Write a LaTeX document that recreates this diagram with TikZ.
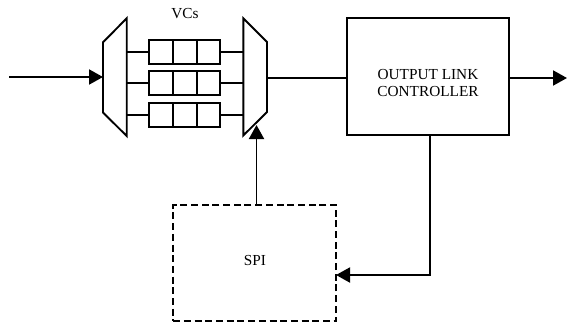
\documentclass[tikz,border=0pt]{standalone}
\usepackage{fontspec}
\setmainfont{Liberation Serif}
\usetikzlibrary{arrows.meta}
\begin{document}
\begin{tikzpicture}[x=1pt,y=-1pt,line width=1.9pt,
  lbl/.style={font=\fontsize{15.3}{17.8}\selectfont,inner sep=0pt,align=center},
  buf/.style={draw,minimum width=71pt,minimum height=23.5pt,inner sep=0pt},
  box/.style={draw,inner sep=0pt},
  arr/.style={-{Triangle[length=14pt,width=15pt]}}]
\useasboundingbox (0,0) rectangle (568,324);
% demux and mux
\draw[line join=miter] (126.7,18.3) -- (103,42.3) -- (103,112.5) -- (126.7,136) -- cycle;
\draw[line join=miter] (243.3,18.3) -- (267,42) -- (267,112) -- (243.3,135.5) -- cycle;
% buffers
\foreach \n/\y in {1/52,2/83,3/115}{
  \node[buf] (b\n) at (184.8,\y) {};
  \draw ([xshift=-11.83pt]b\n.north) -- ([xshift=-11.83pt]b\n.south);
  \draw ([xshift=11.83pt]b\n.north) -- ([xshift=11.83pt]b\n.south);
  \coordinate (dl\n) at (126.7,\y);
  \coordinate (mr\n) at (243.3,\y);
  \draw (dl\n) -- (b\n.west);
  \draw (b\n.east) -- (mr\n);
}
\node[lbl] (vcs) at (185,14) {VCs};
% output link controller
\node[box,minimum width=162pt,minimum height=117pt] (olc) at (428,76.5) {};
\node[lbl] (olct) at (428,83) {OUTPUT LINK\\CONTROLLER};
% SPI
\node[box,dash pattern=on 7pt off 3.7pt,minimum width=163pt,minimum height=116pt] (spi) at (254.7,263) {};
\node[lbl] (spit) at (255,261) {SPI};
% coordinates
\coordinate (in) at (9,77);
\coordinate (din) at (103,77);
\coordinate (mo) at (267,78);
\coordinate (out) at (567,78);
\coordinate (mt) at (256.5,125);
\coordinate (spiin) at (336,275);
% connectors
\draw[arr] (in) -- (din);
\draw (mo) -- (olc.west |- mo);
\draw[arr] (olc.east |- out) -- (out);
\draw[arr] (spi.north -| mt) -- (mt);
\draw[arr] (olc.south -| 430,0) |- (spiin);
\end{tikzpicture}
\end{document}
